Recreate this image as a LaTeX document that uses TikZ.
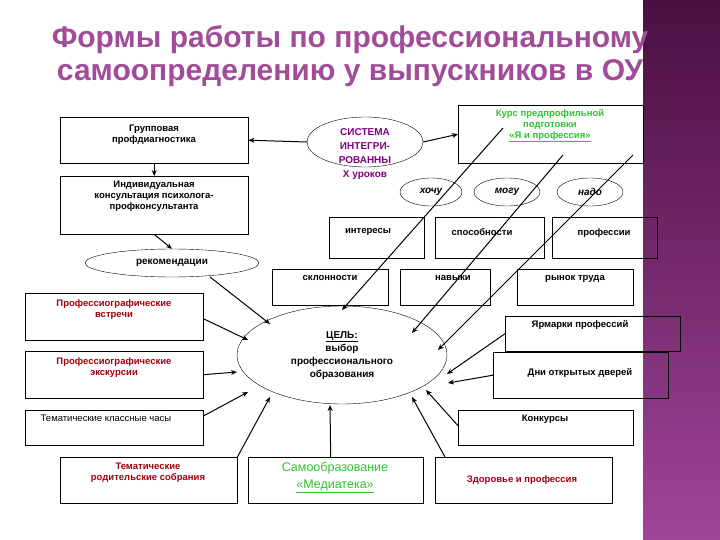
\documentclass[tikz,border=0pt]{standalone}
\usepackage{fontspec}
\setmainfont{Liberation Sans}
\usetikzlibrary{shapes.geometric,arrows.meta}
\definecolor{ttl}{HTML}{A04C98}
\definecolor{dred}{HTML}{A00010}
\definecolor{grn}{HTML}{2EC42E}
\definecolor{purp}{HTML}{800080}
\definecolor{stripeA}{HTML}{4A0F40}
\definecolor{stripeB}{HTML}{A0449A}
\begin{document}
\begin{tikzpicture}[x=1pt,y=-1pt,
  bx/.style={draw,rectangle,align=center,inner sep=2pt},
  tl/.style={align=center,font=\bfseries\fontsize{9.5}{11}\selectfont,anchor=north,inner sep=1pt},
  el/.style={draw,ellipse,inner sep=0pt},
  ar/.style={-{Stealth[length=6pt,width=5pt]},line width=1pt},
  ln/.style={line width=0.9pt}]
\useasboundingbox (0,0) rectangle (720,540);
\shade[top color=stripeA,bottom color=stripeB] (643,0) rectangle (720,540);
\node[font=\bfseries\fontsize{30}{33}\selectfont,text=ttl,align=center,inner sep=0pt] (title) at (350,56) {Формы работы по профессиональному\\самоопределению у выпускников в ОУ};

% left column
\node[bx,minimum width=188,minimum height=46,anchor=north west] (grp) at (60,117) {};
\node[tl] at (154,124) {Групповая\\профдиагностика};
\node[bx,minimum width=188,minimum height=58,anchor=north west] (ind) at (60,176) {};
\node[tl] at (154,180) {Индивидуальная\\консультация психолога-\\профконсультанта};
\node[el,minimum width=174,minimum height=28,font=\bfseries\fontsize{10}{11}\selectfont] (rec) at (172,263) {рекомендации};
\draw[ar] (grp.south) -- (ind.north);
\draw[ar] (ind.south) -- (rec.north);

% system
\node[el,minimum width=116,minimum height=50] (sys) at (365,142) {};
\node[tl,text=purp,font=\bfseries\fontsize{10}{14}\selectfont] at (365,127) {СИСТЕМА\\ИНТЕГРИ-\\РОВАННЫ\\Х уроков};
\node[bx,minimum width=185,minimum height=58,anchor=north west] (kurs) at (458,105) {};
\node[tl,text=grn] at (550,108) {Курс предпрофильной\\подготовки\\\underline{«Я и профессия»}};
\draw[ar] (sys.west) -- (grp.east);
\draw[ar] (sys.east) -- (kurs.west);

\node[el,minimum width=62,minimum height=28,font=\bfseries\itshape\fontsize{10}{11}\selectfont] (h1) at (431,192) {хочу};
\node[el,minimum width=66,minimum height=28,font=\bfseries\itshape\fontsize{10}{11}\selectfont] (h2) at (507,192) {могу};
\node[el,minimum width=66,minimum height=28,font=\bfseries\itshape\fontsize{10}{11}\selectfont] (h3) at (590,192) {надо};

\node[bx,minimum width=95,minimum height=41,anchor=north west] (b1) at (329,217) {};
\node[tl] at (368,227) {интересы};
\node[bx,minimum width=109,minimum height=41,anchor=north west] (b2) at (435,217) {};
\node[tl] at (482,227) {способности};
\node[bx,minimum width=105,minimum height=41,anchor=north west] (b3) at (552,217) {};
\node[tl] at (604,227) {профессии};
\node[bx,minimum width=116,minimum height=36,anchor=north west] (c1) at (272,269) {};
\node[tl] at (330,274) {склонности};
\node[bx,minimum width=90,minimum height=36,anchor=north west] (c2) at (400,269) {};
\node[tl] at (453,274) {навыки};
\node[bx,minimum width=116,minimum height=36,anchor=north west] (c3) at (517,269) {};
\node[tl] at (575,274) {рынок труда};

% goal
\node[el,minimum width=210,minimum height=98] (goal) at (342,355) {};
\node[tl,font=\bfseries\fontsize{10}{13}\selectfont] at (342,330) {\underline{ЦЕЛЬ:}\\выбор\\профессионального\\образования};

% left boxes
\node[bx,minimum width=178,minimum height=47,anchor=north west] (m1) at (25,293) {};
\node[tl,text=dred] at (114,298) {Профессиографические\\встречи};
\node[bx,minimum width=178,minimum height=47,anchor=north west] (m2) at (25,351) {};
\node[tl,text=dred] at (114,356) {Профессиографические\\экскурсии};
\node[bx,minimum width=178,minimum height=35,anchor=north west] (m3) at (25,410) {};
\node[tl,font=\fontsize{9.5}{11}\selectfont] at (106,414) {Тематические классные часы};
\node[bx,minimum width=177,minimum height=46,anchor=north west] (m4) at (60,457) {};
\node[tl,text=dred] at (148,462) {Тематические\\родительские собрания};
\node[bx,minimum width=175,minimum height=46,anchor=north west] (m5) at (248,457) {};
\node[tl,text=grn,font=\fontsize{12.5}{17}\selectfont] at (335,461) {Самообразование\\\underline{«Медиатека»}};
\node[bx,minimum width=177,minimum height=46,anchor=north west] (m6) at (435,457) {};
\node[text=dred,font=\bfseries\fontsize{9.5}{11}\selectfont] at (522,480) {Здоровье и профессия};
\node[bx,minimum width=175,minimum height=35,anchor=north west] (m7) at (458,410) {};
\node[tl] at (545,414) {Конкурсы};
\node[bx,minimum width=175,minimum height=46,anchor=north west] (m8) at (493,352) {};
\node[tl] at (580,367) {Дни открытых дверей};
\node[bx,minimum width=175,minimum height=35,anchor=north west] (m9) at (505,316) {};
\node[tl] at (580,319) {Ярмарки профессий};

% arrows to goal
\coordinate (p0) at (210,277);
\draw[ar] (p0) -- (270,324);
\draw[ar] (m1.east) ++(0,2) -- (248,340);
\draw[ar] (m2.east) -- (237,372);
\draw[ar] (m3.north east) ++(0,6) -- (248,392);
\draw[ar] (m4.north east) -- (270,397);
\draw[ar] (m5.north) ++(-5,0) -- (330,405);
\draw[ar] (m6.north west) ++(10,0) -- (412,397);
\draw[ar] (m7.west) ++(0,-2) -- (426,390);
\draw[ar] (m8.west) -- (448,383);
\draw[ar] (m9.west) -- (447,374);
\coordinate (k1) at (503,128);
\coordinate (k2) at (563,155);
\coordinate (k3) at (633,155);
\draw[ar] (k1) -- (342,310);
\draw[ar] (k2) -- (412,333);
\draw[ar] (k3) -- (438,350);
\end{tikzpicture}
\end{document}
